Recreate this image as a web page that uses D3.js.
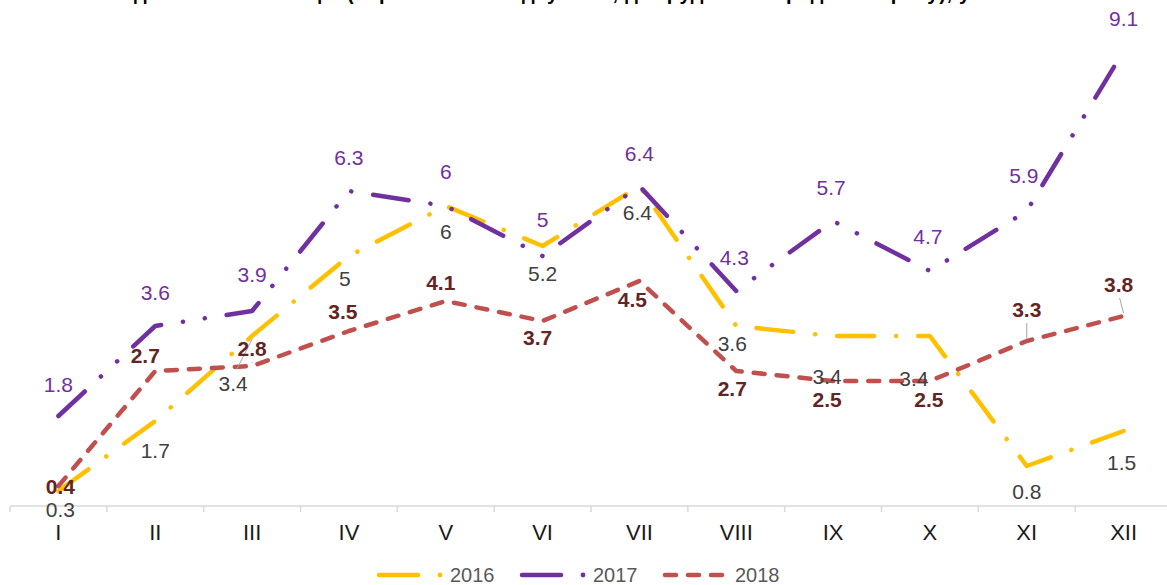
<!DOCTYPE html>
<html>
<head>
<meta charset="utf-8">
<script src="https://cdn.jsdelivr.net/npm/d3@7"></script>
<style>
  html, body { margin: 0; padding: 0; background: #fff; }
  svg { display: block; font-family: "Liberation Sans", Arial, sans-serif; }
</style>
</head>
<body>
<script>
const width = 1167
const height = 585

const title = "Індекс споживчих цін (наростаючим підсумком, до грудня попереднього року), у %"
const months = ["I", "II", "III", "IV", "V", "VI", "VII", "VIII", "IX", "X", "XI", "XII"]
const years = ["2016", "2017", "2018"]
const v2016 = [0.3, 1.7, 3.4, 5, 6, 5.2, 6.4, 3.6, 3.4, 3.4, 0.8, 1.5]
const v2017 = [1.8, 3.6, 3.9, 6.3, 6, 5, 6.4, 4.3, 5.7, 4.7, 5.9, 9.1]
const v2018 = [0.4, 2.7, 2.8, 3.5, 4.1, 3.7, 4.5, 2.7, 2.5, 2.5, 3.3, 3.8]

// label nudges (px) relative to the point, as placed by hand in the original
const nudge2016 = [[2, 18], [0, 29], [-19, 47], [-4, 22], [0, 25], [0, 27], [-2, 26], [-4, 17], [-6, 40], [-16, 42], [0, 25], [-2, 31]]
const nudge2017 = [[0, -32], [0, -34], [0, -37], [0, -34], [0, -35], [0, -37], [0, -33], [-2, -34], [-2, -34], [-2, -35], [-3, -36], [0, -33]]
const nudge2018 = [[2, 0], [-10, -16], [0, -18], [-6, -20], [-5, -19], [-5, 16], [-7, 18], [-4, 17], [-6, 18], [-1, 18], [0, -32], [-5, -32]]

const series = [
    { name: years[0], values: v2016, nudge: nudge2016, color: "#FFC000", labelColor: "#404040", weight: "normal", dash: "37 22 0.1 22", leaders: [2] },
    { name: years[1], values: v2017, nudge: nudge2017, color: "#7030A0", labelColor: "#7030A0", weight: "normal", dash: "36 22 0.1 22 0.1 22", leaders: [] },
    { name: years[2], values: v2018, nudge: nudge2018, color: "#C0504D", labelColor: "#632523", weight: "bold", dash: "11 12", leaders: [2, 10, 11] }
]

const x = d3.scalePoint().domain(months).range([10, 1172]).padding(0.5)
const xBand = d3.scaleBand().domain(months).range([10, 1172])
const y = d3.scaleLinear().domain([0, 10]).range([506, 6])

const svg = d3.select("body").append("svg")
    .attr("width", width)
    .attr("height", height)

// title, mostly above the visible area (as in the source picture)
svg.append("text")
    .attr("x", 555)
    .attr("y", -0.5)
    .attr("text-anchor", "middle")
    .attr("textLength", 880)
    .attr("lengthAdjust", "spacing")
    .style("font-size", "20px")
    .style("font-weight", "bold")
    .style("fill", "#000")
    .text(title)

// x axis
const axis = svg.append("g").attr("transform", `translate(0,${y(0)})`)
axis.append("line")
    .attr("x1", 10).attr("x2", 1172)
    .attr("stroke", "#d9d9d9").attr("stroke-width", 1.5)
axis.selectAll("line.tick")
    .data(months.concat(["end"]))
    .enter()
    .append("line")
    .attr("class", "tick")
    .attr("x1", (d, i) => 10 + i * xBand.step())
    .attr("x2", (d, i) => 10 + i * xBand.step())
    .attr("y1", 0).attr("y2", 6)
    .attr("stroke", "#d9d9d9").attr("stroke-width", 1.5)
axis.selectAll("text")
    .data(months)
    .enter()
    .append("text")
    .attr("x", d => x(d))
    .attr("y", 34)
    .attr("text-anchor", "middle")
    .style("font-size", "22px")
    .style("fill", "#1a1a1a")
    .text(d => d)

const line = d3.line()
    .x((d, i) => x(months[i]))
    .y(d => y(d))

// lines
svg.append("g")
    .selectAll("path")
    .data(series)
    .enter()
    .append("path")
    .attr("d", d => line(d.values))
    .attr("fill", "none")
    .attr("stroke", d => d.color)
    .attr("stroke-width", 4.5)
    .attr("stroke-linecap", "round")
    .attr("stroke-linejoin", "round")
    .attr("stroke-dasharray", d => d.dash)

// leader lines
series.forEach(s => {
    s.leaders.forEach(i => {
        const px = x(months[i]), py = y(s.values[i])
        const [dx, dy] = s.nudge[i]
        const sign = dy < 0 ? -1 : 1
        svg.append("line")
            .attr("x1", px).attr("y1", py + sign * 3)
            .attr("x2", px + dx * 0.8).attr("y2", py + dy - sign * 14)
            .attr("stroke", "#a6a6a6").attr("stroke-width", 1)
    })
})

// data labels
series.forEach(s => {
    svg.append("g")
        .selectAll("text")
        .data(s.values)
        .enter()
        .append("text")
        .attr("x", (d, i) => x(months[i]) + s.nudge[i][0])
        .attr("y", (d, i) => y(d) + s.nudge[i][1])
        .attr("dy", "0.36em")
        .attr("text-anchor", "middle")
        .style("font-size", "21px")
        .style("font-weight", s.weight)
        .style("fill", s.labelColor)
        .text(d => d)
})

// legend
const legendX = [377, 520, 663]
const legend = svg.append("g")
    .selectAll("g")
    .data(series)
    .enter()
    .append("g")
    .attr("transform", (d, i) => `translate(${legendX[i]},575)`)
legend.append("path")
    .attr("d", (d, i) => i < 2 ? "M2,0H41" : "M2,0H60")
    .attr("fill", "none")
    .attr("stroke", d => d.color)
    .attr("stroke-width", 4.5)
    .attr("stroke-linecap", "round")
    .attr("stroke-dasharray", (d, i) => i < 2 ? null : "11 12")
legend.filter((d, i) => i < 2)
    .append("circle")
    .attr("cx", 63).attr("cy", 0).attr("r", 2.4)
    .attr("fill", d => d.color)
legend.append("text")
    .attr("x", (d, i) => i < 2 ? 73 : 72)
    .attr("y", 7)
    .style("font-size", "20px")
    .style("fill", "#595959")
    .text(d => d.name)
</script>
</body>
</html>
